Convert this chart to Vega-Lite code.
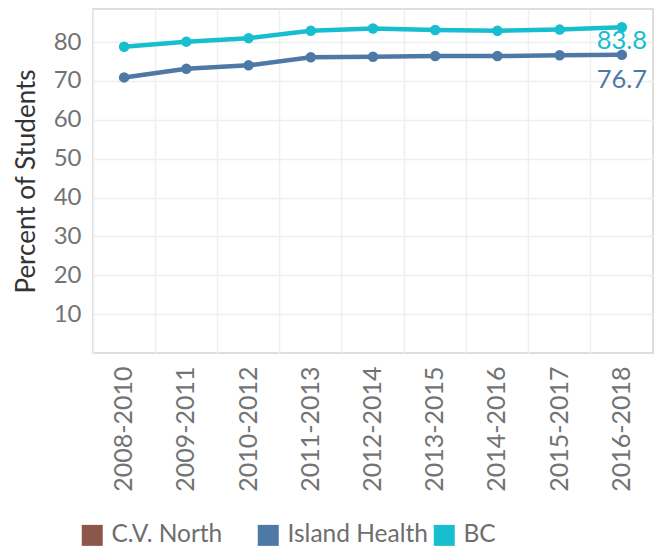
{
  "$schema": "https://vega.github.io/schema/vega-lite/v6.json",
  "autosize": "none",
  "padding": {"left": 93, "top": 9, "right": 3, "bottom": 194},
  "width": 560,
  "height": 344,
  "config": {
    "font": "Lato",
    "view": {"stroke": "#d4d4d4", "strokeWidth": 1.5},
    "axis": {"gridColor": "#efefef", "gridWidth": 1.5}
  },
  "data": {
    "values": [
      {"Period": "2008-2010", "Region": "Island Health", "Pct": 70.9},
      {"Period": "2009-2011", "Region": "Island Health", "Pct": 73.1},
      {"Period": "2010-2012", "Region": "Island Health", "Pct": 74.0},
      {"Period": "2011-2013", "Region": "Island Health", "Pct": 76.1},
      {"Period": "2012-2014", "Region": "Island Health", "Pct": 76.2},
      {"Period": "2013-2015", "Region": "Island Health", "Pct": 76.4},
      {"Period": "2014-2016", "Region": "Island Health", "Pct": 76.4},
      {"Period": "2015-2017", "Region": "Island Health", "Pct": 76.6},
      {"Period": "2016-2018", "Region": "Island Health", "Pct": 76.7},
      {"Period": "2008-2010", "Region": "BC", "Pct": 78.8},
      {"Period": "2009-2011", "Region": "BC", "Pct": 80.1},
      {"Period": "2010-2012", "Region": "BC", "Pct": 81.0},
      {"Period": "2011-2013", "Region": "BC", "Pct": 82.9},
      {"Period": "2012-2014", "Region": "BC", "Pct": 83.5},
      {"Period": "2013-2015", "Region": "BC", "Pct": 83.1},
      {"Period": "2014-2016", "Region": "BC", "Pct": 82.9},
      {"Period": "2015-2017", "Region": "BC", "Pct": 83.2},
      {"Period": "2016-2018", "Region": "BC", "Pct": 83.8}
    ]
  },
  "encoding": {
    "x": {
      "field": "Period",
      "type": "ordinal",
      "scale": {"type": "band", "paddingInner": 0, "paddingOuter": 0},
      "axis": {
        "title": null,
        "bandPosition": 0,
        "labelOffset": 0,
        "labelAngle": -90,
        "labelFontSize": 25,
        "labelColor": "#737373",
        "labelPadding": 13,
        "ticks": false,
        "domain": false,
        "grid": true
      }
    },
    "y": {
      "field": "Pct",
      "type": "quantitative",
      "scale": {"domain": [0, 88.5], "nice": false, "zero": true},
      "axis": {
        "title": "Percent of Students",
        "titleFontSize": 26,
        "titleFontWeight": "normal",
        "titleColor": "#333333",
        "titlePadding": 14,
        "values": [10, 20, 30, 40, 50, 60, 70, 80],
        "labelFontSize": 24,
        "labelColor": "#737373",
        "labelPadding": 12,
        "ticks": false,
        "domain": false,
        "grid": true
      }
    },
    "color": {
      "field": "Region",
      "type": "nominal",
      "scale": {
        "domain": ["C.V. North", "Island Health", "BC"],
        "range": ["#8c564b", "#4e79a7", "#17becf"]
      },
      "legend": {
        "title": null,
        "orient": "none",
        "legendX": -13,
        "legendY": 514,
        "direction": "horizontal",
        "columns": 3,
        "gridAlign": "all",
        "columnPadding": 4,
        "symbolType": "square",
        "symbolSize": 441,
        "symbolStrokeWidth": 0,
        "symbolOpacity": 1,
        "labelFontSize": 24.5,
        "labelColor": "#6e6e6e",
        "labelOffset": 7
      }
    }
  },
  "layer": [
    {"mark": {"type": "line", "strokeWidth": 4.5}},
    {"mark": {"type": "point", "filled": true, "size": 110, "opacity": 1}},
    {
      "transform": [{"filter": "datum.Period == '2016-2018' && datum.Region == 'BC'"}],
      "mark": {"type": "text", "fontSize": 25.5, "dy": 14, "baseline": "middle", "align": "center"},
      "encoding": {"text": {"field": "Pct", "type": "quantitative", "format": ".1f"}}
    },
    {
      "transform": [{"filter": "datum.Period == '2016-2018' && datum.Region == 'Island Health'"}],
      "mark": {"type": "text", "fontSize": 25.5, "dy": 25, "baseline": "middle", "align": "center"},
      "encoding": {"text": {"field": "Pct", "type": "quantitative", "format": ".1f"}}
    }
  ]
}
